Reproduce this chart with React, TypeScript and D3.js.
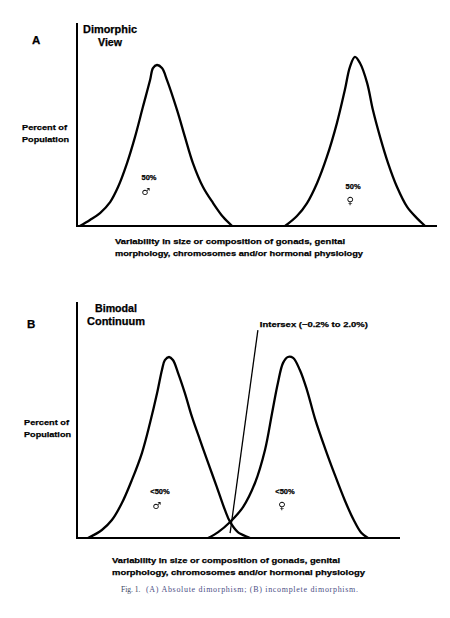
import * as d3 from 'd3';
import React from 'react';

// Curve points: [variability, percent of population] on a 0–100 frame
const MALE_A: [number, number][] = [
  [0.8, 0], [3.6, 3.0], [6.4, 6.4], [9.2, 11.8], [11.4, 19.2], [13.9, 31.0], [16.1, 43.8],
  [18.3, 58.6], [20.3, 71.9], [21.1, 77.8], [22.2, 79.3], [23.6, 77.8], [25.0, 71.9],
  [27.8, 57.1], [30.0, 43.8], [32.2, 31.0], [35.0, 19.2], [37.8, 11.3], [40.6, 4.4], [43.1, 0],
];
const FEMALE_A: [number, number][] = [
  [57.8, 0], [61.1, 4.9], [63.9, 11.3], [66.7, 21.2], [69.4, 34.0], [72.2, 50.7], [74.4, 67.0],
  [75.8, 78.3], [77.2, 83.3], [78.6, 80.3], [80.6, 70.4], [82.2, 57.1], [84.2, 43.8],
  [86.4, 31.0], [88.9, 19.2], [91.7, 9.4], [94.4, 3.9], [96.7, 0],
];
const MALE_B: [number, number][] = [
  [3.4, 0], [7.7, 3.4], [10.8, 7.6], [13.9, 14.8], [17.0, 24.6], [20.1, 36.0], [22.6, 48.7],
  [24.8, 61.4], [26.3, 71.2], [27.2, 75.4], [28.5, 76.7], [29.7, 75.4], [31.3, 69.9],
  [33.4, 61.4], [35.6, 51.3], [38.1, 41.5], [40.6, 31.8], [43.3, 21.6], [45.8, 11.9],
  [47.4, 6.8], [49.8, 2.5], [52.9, 0.4], [53.6, 0],
];
const FEMALE_B: [number, number][] = [
  [40.6, 0], [43.7, 2.5], [47.4, 6.8], [51.4, 13.1], [55.1, 23.3], [58.2, 37.3], [60.4, 53.0],
  [62.2, 65.7], [63.8, 74.2], [65.3, 76.7], [66.9, 76.3], [69.0, 71.2], [71.2, 62.7],
  [73.7, 50.5], [76.8, 38.0], [79.9, 26.5], [82.9, 16.0], [85.6, 7.8], [88.0, 2.2], [90.1, 0],
];
const INTERSEX_LEADER: [number, number][] = [[47.4, 2.1], [56.0, 88.1]];

const PANEL_LETTERS = ['A', 'B'];
const PANEL_TITLES = [['Dimorphic', 'View'], ['Bimodal', 'Continuum']];
const Y_LABEL = ['Percent of', 'Population'];
const X_LABEL = [
  'Variability in size or composition of gonads, genital',
  'morphology, chromosomes and/or hormonal physiology',
];
const SHARE_LABELS = [['50%', '50%'], ['<50%', '<50%']];
const SEX_SYMBOLS = ['\u2642\uFE0E', '\u2640\uFE0E'];
const INTERSEX_LABEL = 'Intersex (~0.2% to 2.0%)';
const CAPTION_FIG = 'Fig. 1.';
const CAPTION_TEXT = '(A) Absolute dimorphism; (B) incomplete dimorphism.';

const SANS = '"Liberation Sans", Arial, Helvetica, sans-serif';
const SERIF = '"Liberation Serif", "Times New Roman", serif';
const SYMBOL_FONT = '"DejaVu Sans", "Liberation Sans", sans-serif';

interface PanelProps {
  index: number;
  left: number;
  right: number;
  top: number;
  bottom: number;
  male: [number, number][];
  female: [number, number][];
  leader?: [number, number][];
  letterPos: [number, number];
  titleX: number;
  titleY: number;
  titleWidths: [number, number];
  yLabelY: number;
  yLabelX: number;
  xLabelX: number;
  xLabelY: number;
  xLabelWidths: [number, number];
  maleLabel: [number, number];
  femaleLabel: [number, number];
}

// scanned lettering is heavy, a thin outline thickens it a little
const inkText = { fill: '#000', stroke: '#000', strokeWidth: 0.25 };

const Panel: React.FC<PanelProps> = (p) => {
  const x = d3.scaleLinear().domain([0, 100]).range([p.left, p.right]);
  const y = d3.scaleLinear().domain([0, 100]).range([p.bottom, p.top]);

  const curve = d3.line<[number, number]>()
    .x(d => x(d[0]))
    .y(d => y(d[1]))
    .curve(d3.curveCatmullRom.alpha(0.5));

  const straight = d3.line<[number, number]>()
    .x(d => x(d[0]))
    .y(d => y(d[1]));

  const labels = SHARE_LABELS[p.index];

  return (
    <g>
      <text x={p.letterPos[0]} y={p.letterPos[1]} fontFamily={SANS} fontWeight="bold" fontSize={11.5} {...inkText}>
        {PANEL_LETTERS[p.index]}
      </text>
      {PANEL_TITLES[p.index].map((t, i) => (
        <text key={t} x={p.titleX} y={p.titleY + i * 12.5} textAnchor="middle"
          fontFamily={SANS} fontWeight="bold" fontSize={10} {...inkText}
          textLength={p.titleWidths[i]} lengthAdjust="spacingAndGlyphs">
          {t}
        </text>
      ))}
      {Y_LABEL.map((t, i) => (
        <text key={t} x={p.yLabelX} y={p.yLabelY + i * 12} fontFamily={SANS} fontWeight="bold"
          fontSize={8} {...inkText} textLength={i === 0 ? 45 : 47} lengthAdjust="spacingAndGlyphs">
          {t}
        </text>
      ))}
      {X_LABEL.map((t, i) => (
        <text key={t} x={p.xLabelX} y={p.xLabelY + i * 12} fontFamily={SANS} fontWeight="bold"
          fontSize={8} {...inkText} textLength={p.xLabelWidths[i]} lengthAdjust="spacingAndGlyphs">
          {t}
        </text>
      ))}

      {/* axes */}
      <line x1={x(0)} x2={x(0)} y1={y(0) + 1} y2={y(100)} stroke="#000" strokeWidth={2} />
      <line x1={x(0) - 1} x2={x(100)} y1={y(0)} y2={y(0)} stroke="#000" strokeWidth={2} />

      {/* distributions */}
      <path d={curve(p.male) ?? ''} fill="none" stroke="#000" strokeWidth={2.3} strokeLinejoin="round" />
      <path d={curve(p.female) ?? ''} fill="none" stroke="#000" strokeWidth={2.3} strokeLinejoin="round" />

      {p.leader && (
        <g>
          <path d={straight(p.leader) ?? ''} fill="none" stroke="#000" strokeWidth={1.3} />
          <text x={x(p.leader[1][0]) + 2} y={y(p.leader[1][1]) - 3} fontFamily={SANS}
            fontWeight="bold" fontSize={8} {...inkText} textLength={108} lengthAdjust="spacingAndGlyphs">
            {INTERSEX_LABEL}
          </text>
        </g>
      )}

      {[p.maleLabel, p.femaleLabel].map((pos, i) => (
        <g key={i}>
          <text x={x(pos[0])} y={y(pos[1])} textAnchor="middle" fontFamily={SANS}
            fontWeight="bold" fontSize={7.5} {...inkText}>
            {labels[i]}
          </text>
          <text x={x(pos[0]) - 3} y={y(pos[1]) + 15} textAnchor="middle"
            fontFamily={SYMBOL_FONT} fontSize={10} fill="#000"
            style={{ filter: 'grayscale(1) brightness(0)' }}>
            {SEX_SYMBOLS[i]}
          </text>
        </g>
      ))}
    </g>
  );
};

const App: React.FC = () => {
  return (
    <svg width={450} height={618} style={{ position: 'absolute', left: 0, top: 0, background: '#fff' }}>
      <Panel
        index={0}
        left={77} right={437} top={23} bottom={226}
        male={MALE_A} female={FEMALE_A}
        letterPos={[32, 44]}
        titleX={110} titleY={33} titleWidths={[54, 24]}
        yLabelX={22} yLabelY={130}
        xLabelX={115} xLabelY={244} xLabelWidths={[230, 248]}
        maleLabel={[20.0, 22.5]} femaleLabel={[76.7, 18.2]}
      />
      <Panel
        index={1}
        left={77} right={400} top={302} bottom={538}
        male={MALE_B} female={FEMALE_B}
        leader={INTERSEX_LEADER}
        letterPos={[27, 328]}
        titleX={116} titleY={312} titleWidths={[42, 58]}
        yLabelX={24} yLabelY={425}
        xLabelX={112} xLabelY={563} xLabelWidths={[228, 253]}
        maleLabel={[25.7, 18.6]} femaleLabel={[64.4, 18.6]}
      />
      <text x={121} y={592} fontFamily={SERIF} fontSize={7.5} fill="#3b4660">
        {CAPTION_FIG}
      </text>
      <text x={146} y={592} fontFamily={SERIF} fontSize={8} fill="#4d4f86"
        textLength={212} lengthAdjust="spacing">
        {CAPTION_TEXT}
      </text>
    </svg>
  );
};

export default App;
